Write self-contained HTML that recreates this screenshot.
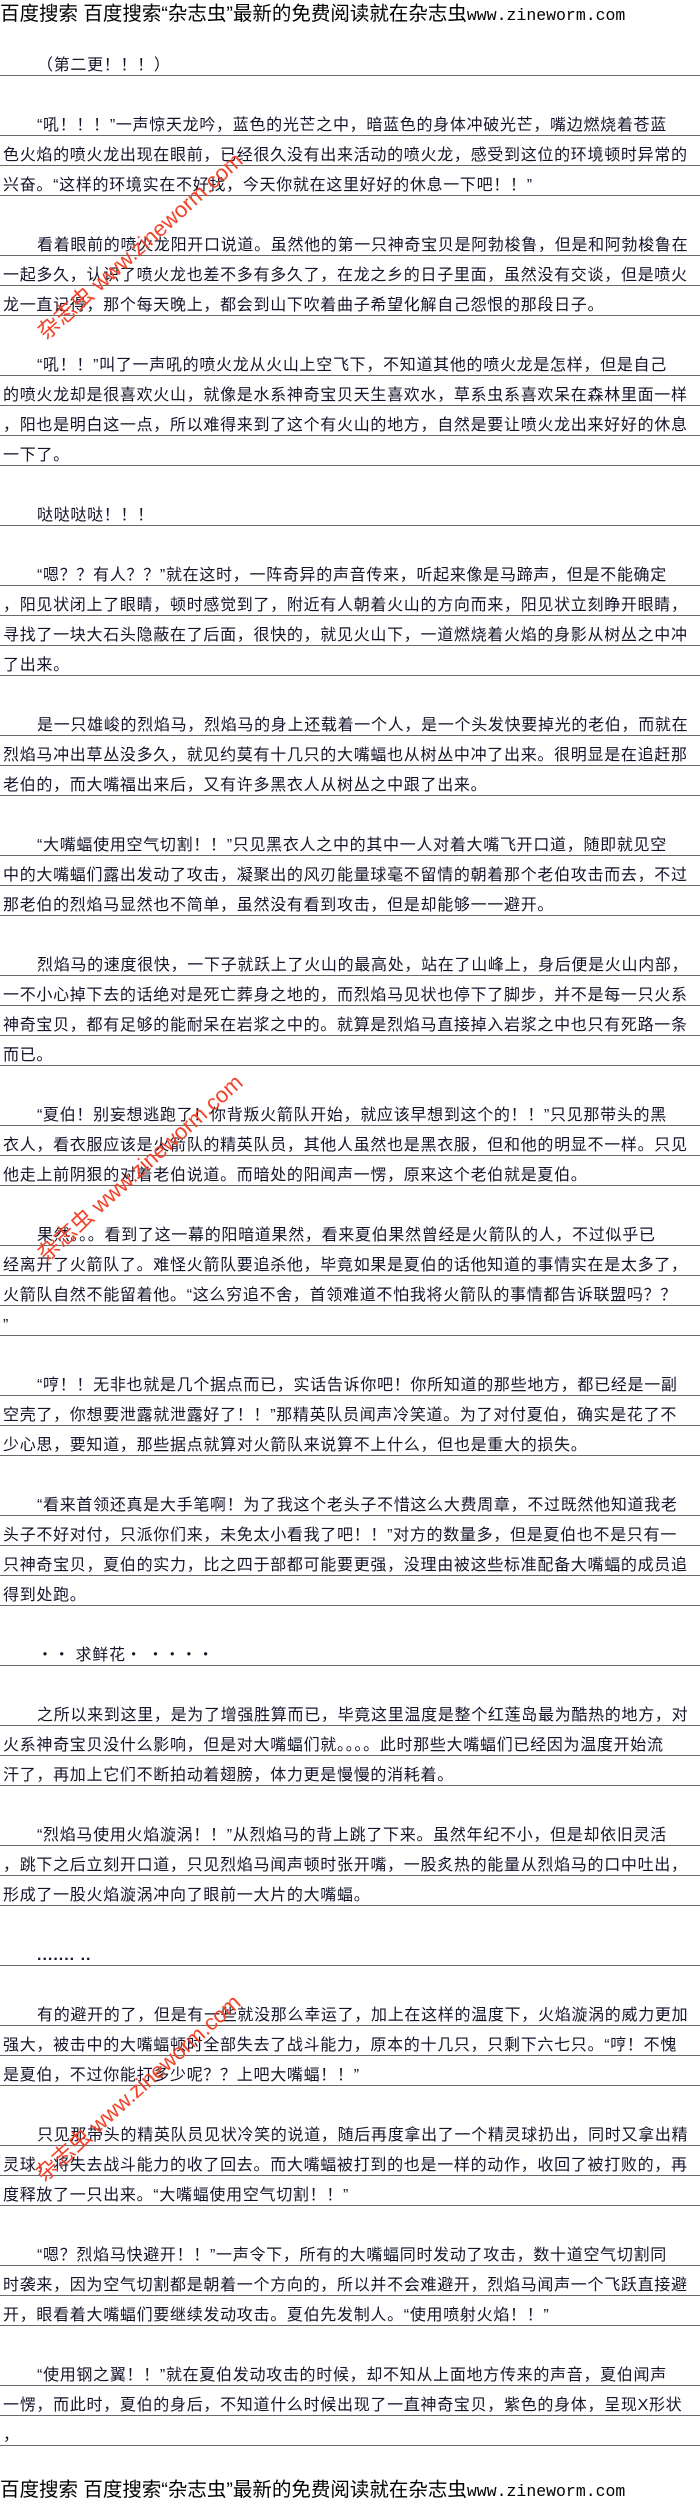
<!DOCTYPE html>
<html><head><meta charset="utf-8">
<style>
html,body{margin:0;padding:0;background:#fff;}
body{width:700px;height:2510px;position:relative;overflow:hidden;font-family:"Liberation Sans","Noto Sans CJK SC","WenQuanYi Zen Hei",sans-serif;}
.hd{position:absolute;left:0;white-space:nowrap;font-size:19.5px;color:#000;line-height:24px;}
.hd span{font-family:"Liberation Mono",monospace;font-size:16.5px;}
#c{position:absolute;left:0;top:46px;width:700px;}
.l,.b{height:30px;box-sizing:border-box;}
.l{border-bottom:1px solid #6a6a6a;padding-top:11px;line-height:18px;font-size:16px;letter-spacing:0.7px;white-space:nowrap;color:#14142a;padding-left:3px;}
.i{padding-left:37px;}
.wm{position:absolute;color:#f0442a;font-size:22px;white-space:nowrap;transform:rotate(-42deg);transform-origin:left center;font-family:"Liberation Sans","Noto Sans CJK SC",sans-serif;}
</style></head><body>
<div class="hd" style="top:2px">百度搜索 百度搜索“杂志虫”最新的免费阅读就在杂志虫<span>www.zineworm.com</span></div>
<div id="c">
<div class="l i">（第二更！！！）</div>
<div class="b"></div>
<div class="l i">“吼！！！”一声惊天龙吟，蓝色的光芒之中，暗蓝色的身体冲破光芒，嘴边燃烧着苍蓝</div>
<div class="l">色火焰的喷火龙出现在眼前，已经很久没有出来活动的喷火龙，感受到这位的环境顿时异常的</div>
<div class="l">兴奋。“这样的环境实在不好找，今天你就在这里好好的休息一下吧！！”</div>
<div class="b"></div>
<div class="l i">看着眼前的喷火龙阳开口说道。虽然他的第一只神奇宝贝是阿勃梭鲁，但是和阿勃梭鲁在</div>
<div class="l">一起多久，认识了喷火龙也差不多有多久了，在龙之乡的日子里面，虽然没有交谈，但是喷火</div>
<div class="l">龙一直记得，那个每天晚上，都会到山下吹着曲子希望化解自己怨恨的那段日子。</div>
<div class="b"></div>
<div class="l i">“吼！！”叫了一声吼的喷火龙从火山上空飞下，不知道其他的喷火龙是怎样，但是自己</div>
<div class="l">的喷火龙却是很喜欢火山，就像是水系神奇宝贝天生喜欢水，草系虫系喜欢呆在森林里面一样</div>
<div class="l">，阳也是明白这一点，所以难得来到了这个有火山的地方，自然是要让喷火龙出来好好的休息</div>
<div class="l">一下了。</div>
<div class="b"></div>
<div class="l i">哒哒哒哒！！！</div>
<div class="b"></div>
<div class="l i">“嗯？？有人？？”就在这时，一阵奇异的声音传来，听起来像是马蹄声，但是不能确定</div>
<div class="l">，阳见状闭上了眼睛，顿时感觉到了，附近有人朝着火山的方向而来，阳见状立刻睁开眼睛，</div>
<div class="l">寻找了一块大石头隐蔽在了后面，很快的，就见火山下，一道燃烧着火焰的身影从树丛之中冲</div>
<div class="l">了出来。</div>
<div class="b"></div>
<div class="l i">是一只雄峻的烈焰马，烈焰马的身上还载着一个人，是一个头发快要掉光的老伯，而就在</div>
<div class="l">烈焰马冲出草丛没多久，就见约莫有十几只的大嘴蝠也从树丛中冲了出来。很明显是在追赶那</div>
<div class="l">老伯的，而大嘴福出来后，又有许多黑衣人从树丛之中跟了出来。</div>
<div class="b"></div>
<div class="l i">“大嘴蝠使用空气切割！！”只见黑衣人之中的其中一人对着大嘴飞开口道，随即就见空</div>
<div class="l">中的大嘴蝠们露出发动了攻击，凝聚出的风刃能量球毫不留情的朝着那个老伯攻击而去，不过</div>
<div class="l">那老伯的烈焰马显然也不简单，虽然没有看到攻击，但是却能够一一避开。</div>
<div class="b"></div>
<div class="l i">烈焰马的速度很快，一下子就跃上了火山的最高处，站在了山峰上，身后便是火山内部，</div>
<div class="l">一不小心掉下去的话绝对是死亡葬身之地的，而烈焰马见状也停下了脚步，并不是每一只火系</div>
<div class="l">神奇宝贝，都有足够的能耐呆在岩浆之中的。就算是烈焰马直接掉入岩浆之中也只有死路一条</div>
<div class="l">而已。</div>
<div class="b"></div>
<div class="l i">“夏伯！别妄想逃跑了！你背叛火箭队开始，就应该早想到这个的！！”只见那带头的黑</div>
<div class="l">衣人，看衣服应该是火箭队的精英队员，其他人虽然也是黑衣服，但和他的明显不一样。只见</div>
<div class="l">他走上前阴狠的对着老伯说道。而暗处的阳闻声一愣，原来这个老伯就是夏伯。</div>
<div class="b"></div>
<div class="l i">果然。。。看到了这一幕的阳暗道果然，看来夏伯果然曾经是火箭队的人，不过似乎已</div>
<div class="l">经离开了火箭队了。难怪火箭队要追杀他，毕竟如果是夏伯的话他知道的事情实在是太多了，</div>
<div class="l">火箭队自然不能留着他。“这么穷追不舍，首领难道不怕我将火箭队的事情都告诉联盟吗？？</div>
<div class="l">”</div>
<div class="b"></div>
<div class="l i">“哼！！无非也就是几个据点而已，实话告诉你吧！你所知道的那些地方，都已经是一副</div>
<div class="l">空壳了，你想要泄露就泄露好了！！”那精英队员闻声冷笑道。为了对付夏伯，确实是花了不</div>
<div class="l">少心思，要知道，那些据点就算对火箭队来说算不上什么，但也是重大的损失。</div>
<div class="b"></div>
<div class="l i">“看来首领还真是大手笔啊！为了我这个老头子不惜这么大费周章，不过既然他知道我老</div>
<div class="l">头子不好对付，只派你们来，未免太小看我了吧！！”对方的数量多，但是夏伯也不是只有一</div>
<div class="l">只神奇宝贝，夏伯的实力，比之四于部都可能要更强，没理由被这些标准配备大嘴蝠的成员追</div>
<div class="l">得到处跑。</div>
<div class="b"></div>
<div class="l i">・・ 求鲜花・ ・・・・</div>
<div class="b"></div>
<div class="l i">之所以来到这里，是为了增强胜算而已，毕竟这里温度是整个红莲岛最为酷热的地方，对</div>
<div class="l">火系神奇宝贝没什么影响，但是对大嘴蝠们就。。。。此时那些大嘴蝠们已经因为温度开始流</div>
<div class="l">汗了，再加上它们不断拍动着翅膀，体力更是慢慢的消耗着。</div>
<div class="b"></div>
<div class="l i">“烈焰马使用火焰漩涡！！”从烈焰马的背上跳了下来。虽然年纪不小，但是却依旧灵活</div>
<div class="l">，跳下之后立刻开口道，只见烈焰马闻声顿时张开嘴，一股炙热的能量从烈焰马的口中吐出，</div>
<div class="l">形成了一股火焰漩涡冲向了眼前一大片的大嘴蝠。</div>
<div class="b"></div>
<div class="l i" style="font-weight:bold;letter-spacing:1px">....... ..</div>
<div class="b"></div>
<div class="l i">有的避开的了，但是有一些就没那么幸运了，加上在这样的温度下，火焰漩涡的威力更加</div>
<div class="l">强大，被击中的大嘴蝠顿时全部失去了战斗能力，原本的十几只，只剩下六七只。“哼！不愧</div>
<div class="l">是夏伯，不过你能打多少呢？？上吧大嘴蝠！！”</div>
<div class="b"></div>
<div class="l i">只见那带头的精英队员见状冷笑的说道，随后再度拿出了一个精灵球扔出，同时又拿出精</div>
<div class="l">灵球，将失去战斗能力的收了回去。而大嘴蝠被打到的也是一样的动作，收回了被打败的，再</div>
<div class="l">度释放了一只出来。“大嘴蝠使用空气切割！！”</div>
<div class="b"></div>
<div class="l i">“嗯？烈焰马快避开！！”一声令下，所有的大嘴蝠同时发动了攻击，数十道空气切割同</div>
<div class="l">时袭来，因为空气切割都是朝着一个方向的，所以并不会难避开，烈焰马闻声一个飞跃直接避</div>
<div class="l">开，眼看着大嘴蝠们要继续发动攻击。夏伯先发制人。“使用喷射火焰！！”</div>
<div class="b"></div>
<div class="l i">“使用钢之翼！！”就在夏伯发动攻击的时候，却不知从上面地方传来的声音，夏伯闻声</div>
<div class="l">一愣，而此时，夏伯的身后，不知道什么时候出现了一直神奇宝贝，紫色的身体，呈现X形状</div>
<div class="l">，</div>
</div>
<div class="wm" style="left:40px;top:318px">杂志虫 www.zineworm.com</div>
<div class="wm" style="left:40px;top:1240px">杂志虫 www.zineworm.com</div>
<div class="wm" style="left:38px;top:2160px">杂志虫 www.zineworm.com</div>
<div class="hd" style="top:2478px">百度搜索 百度搜索“杂志虫”最新的免费阅读就在杂志虫<span>www.zineworm.com</span></div>
</body></html>
